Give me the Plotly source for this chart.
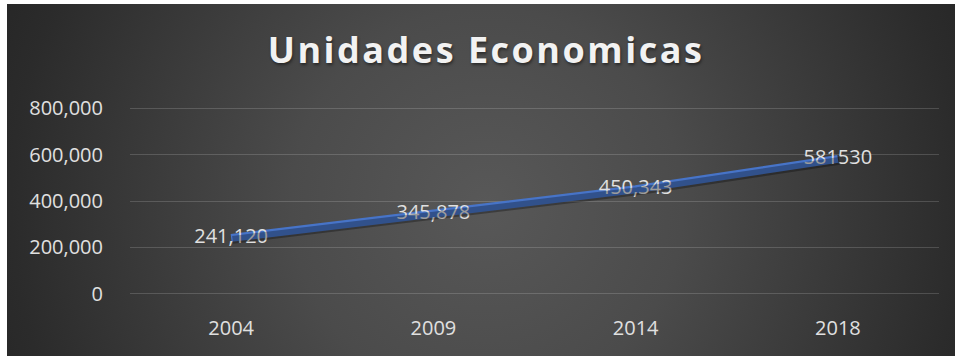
import base64
import plotly.graph_objects as go

# Unidades economicas por año censal
years = ["2004", "2009", "2014", "2018"]
units = [241120, 345878, 450343, 581530]
unit_labels = ["241,120", "345,878", "450,343", "581530"]

y_ticks = [0, 200000, 400000, 600000, 800000]
y_tick_text = ["0", "200,000", "400,000", "600,000", "800,000"]

LINE_BLUE = "#4774C8"
TEXT_GRAY = "#e0e0e0"

# Dark radial-gradient card used as the chart background
bg_svg = """<svg xmlns='http://www.w3.org/2000/svg' width='948' height='352' viewBox='0 0 948 352' preserveAspectRatio='none'>
<defs><radialGradient id='g' gradientUnits='userSpaceOnUse' cx='480' cy='200' r='560'>
<stop offset='0' stop-color='#585858'/>
<stop offset='0.35' stop-color='#4b4b4b'/>
<stop offset='0.85' stop-color='#2b2b2b'/>
<stop offset='1' stop-color='#242424'/>
</radialGradient></defs>
<rect width='948' height='352' fill='url(#g)'/>
</svg>"""
bg_uri = "data:image/svg+xml;base64," + base64.b64encode(bg_svg.encode()).decode()

W, H = 959, 356
Y_MIN, Y_MAX = 0, 800000
pad = (Y_MAX - Y_MIN) * 0.012   # keeps the 0 and 800,000 grid lines off the plot edge
y_range = [Y_MIN - pad, Y_MAX + pad]

L, R, T, B = 130, 20, 106, 60
pw, ph = W - L - R, H - T - B

# shadow offset: ~1.5px right, ~2px down, expressed in axis units
dx = 1.5 / (pw / 4)
dy = 2 * (y_range[1] - y_range[0]) / ph

def px_to_paper_x(px):
    return (px - L) / pw

def px_to_paper_y(py):
    return (H - B - py) / ph

fig = go.Figure()

# soft drop shadow under the line, on an overlaid, slightly shifted axis pair
fig.add_trace(go.Scatter(
    x=years, y=units, mode="lines",
    line=dict(color="rgba(0,0,0,0.3)", width=8),
    xaxis="x2", yaxis="y2",
    hoverinfo="skip", showlegend=False,
))

fig.add_trace(go.Scatter(
    x=years, y=units, mode="lines+text",
    line=dict(color=LINE_BLUE, width=8),
    text=unit_labels, textposition="middle center",
    textfont=dict(family="Open Sans", size=20, color=TEXT_GRAY),
    showlegend=False,
))

fig.update_layout(
    width=W, height=H,
    margin=dict(l=L, r=R, t=T, b=B),
    paper_bgcolor="white",
    plot_bgcolor="rgba(0,0,0,0)",
    title=dict(
        text="<b>Unidades Economicas</b>",
        x=486 / W, xanchor="center",
        y=1 - 50 / H, yanchor="middle",
        font=dict(family="Open Sans", size=36, color="#f2f2f2",
                  shadow="1px 2px 3px rgba(0,0,0,0.45)"),
    ),
    images=[dict(
        source=bg_uri, xref="paper", yref="paper",
        x=px_to_paper_x(7), y=px_to_paper_y(4),
        sizex=px_to_paper_x(955) - px_to_paper_x(7),
        sizey=px_to_paper_y(4) - px_to_paper_y(356),
        xanchor="left", yanchor="top", sizing="stretch", layer="below",
    )],
    xaxis=dict(
        type="category", range=[-0.5, 3.5],
        showgrid=False, zeroline=False, showline=False,
        ticks="", ticklabelstandoff=18,
        tickfont=dict(family="Open Sans", size=20, color=TEXT_GRAY),
    ),
    yaxis=dict(
        range=y_range, tickvals=y_ticks, ticktext=y_tick_text,
        showgrid=True, gridcolor="rgba(255,255,255,0.16)", gridwidth=1,
        zeroline=False, showline=False, ticks="", ticklabelstandoff=26,
        tickfont=dict(family="Open Sans", size=20, color=TEXT_GRAY),
    ),
    xaxis2=dict(
        type="category", overlaying="x", range=[-0.5 - dx, 3.5 - dx],
        visible=False,
    ),
    yaxis2=dict(
        overlaying="y", range=[y_range[0] + dy, y_range[1] + dy],
        visible=False,
    ),
)

fig.write_html(
    "out.html",
    post_script="document.querySelectorAll('.gtitle').forEach(function(t){t.style.letterSpacing='2.5px';});",
)
